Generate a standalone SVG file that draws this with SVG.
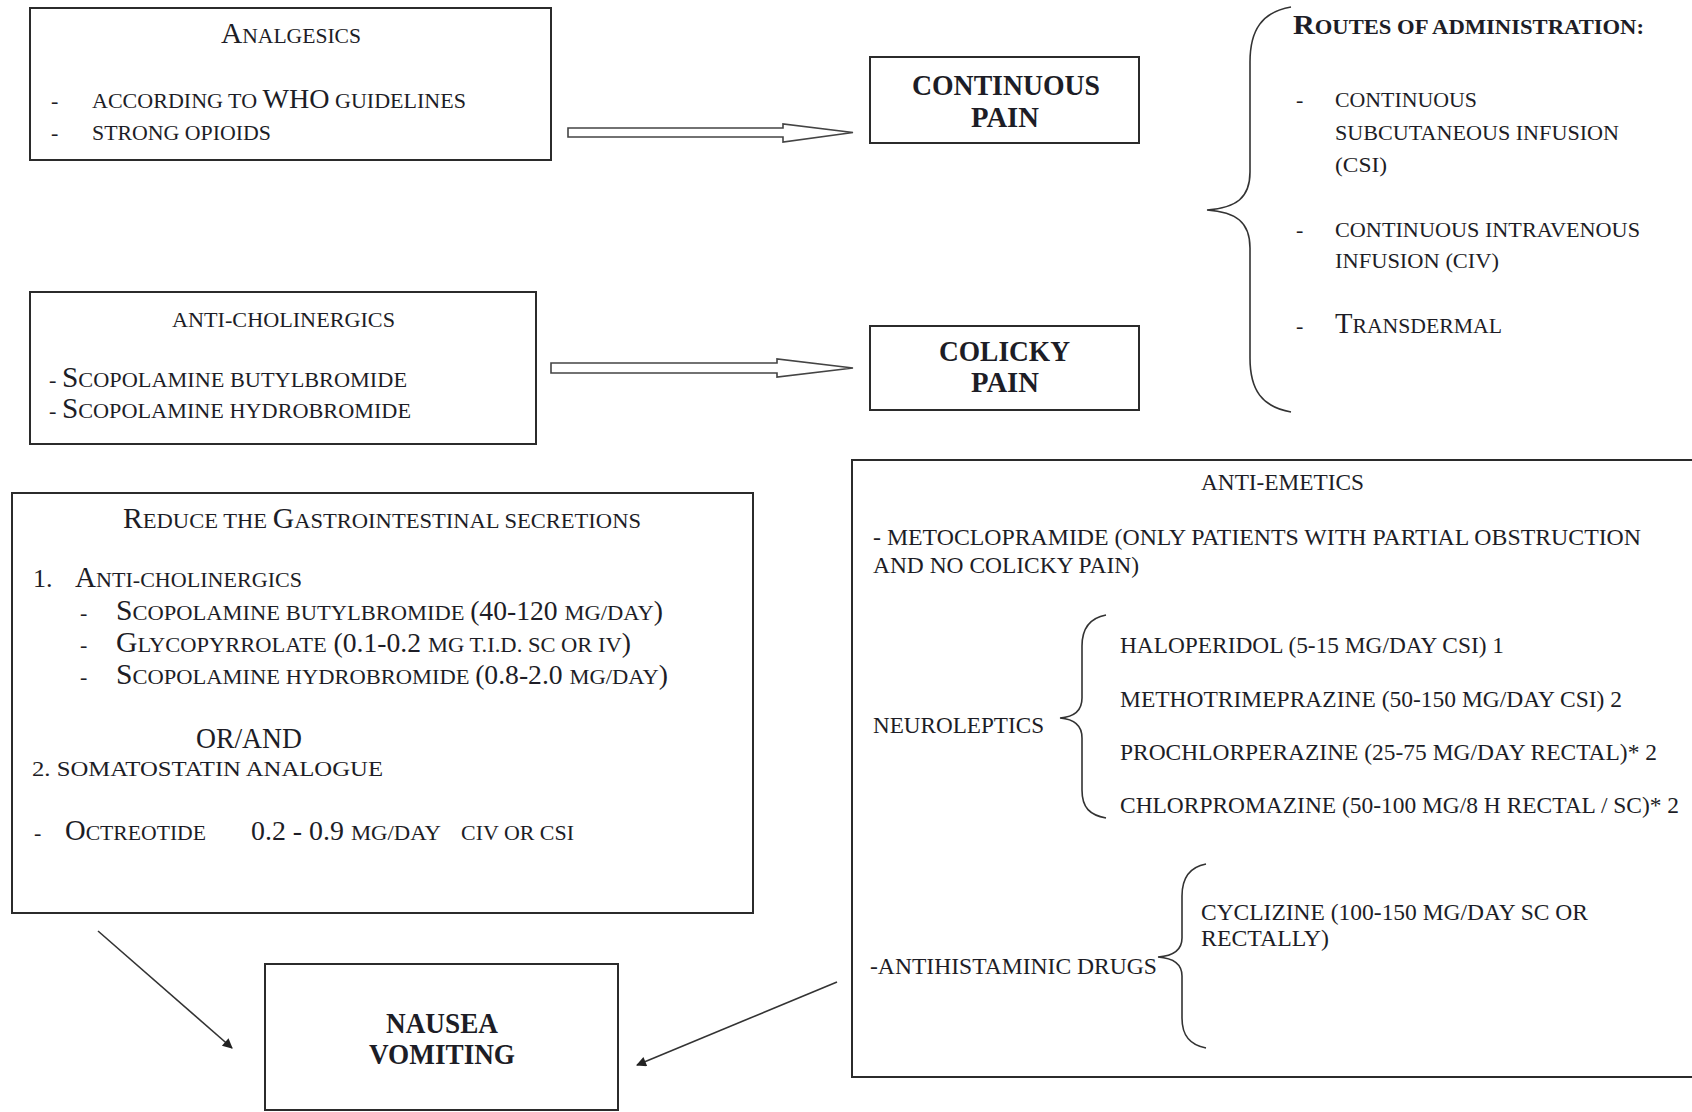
<svg xmlns="http://www.w3.org/2000/svg" width="1692" height="1112" viewBox="0 0 1692 1112">
<style>
text{font-family:"Liberation Serif","Times New Roman",serif;fill:#1d1d26;font-size:22px}
.b{font-weight:bold}
.box{fill:none;stroke:#2b2b2b;stroke-width:2}
.brace{fill:none;stroke:#333;stroke-width:1.6}
.big{font-size:29px}
.num{font-size:27px}
.mid{font-size:24px}
.tt{font-size:30px;font-weight:bold}
.hollow{fill:#fff;stroke:#444;stroke-width:1.6}
.line{stroke:#333;stroke-width:1.6;fill:none}
</style>
<defs>
<marker id="ah" viewBox="0 0 10 10" refX="9" refY="5" markerWidth="14" markerHeight="10" markerUnits="userSpaceOnUse" orient="auto">
<path d="M0,0 L10,5 L0,10 z" fill="#222"/>
</marker>
</defs>
<rect width="1692" height="1112" fill="#fff"/>

<g id="analgesics">
<rect class="box" x="30" y="8" width="521" height="152"/>
<text x="221" y="43" textLength="140" lengthAdjust="spacingAndGlyphs"><tspan style="font-size:30px">A</tspan>NALGESICS</text>
<text x="51" y="108">-</text>
<text x="92" y="108" textLength="374" lengthAdjust="spacingAndGlyphs">ACCORDING TO <tspan style="font-size:28px">WHO</tspan> GUIDELINES</text>
<text x="51" y="140">-</text>
<text x="92" y="140" textLength="179" lengthAdjust="spacingAndGlyphs">STRONG OPIOIDS</text>
</g>

<g id="anticholinergics">
<rect class="box" x="30" y="292" width="506" height="152"/>
<text x="172" y="327" textLength="223" lengthAdjust="spacingAndGlyphs">ANTI-CHOLINERGICS</text>
<text x="49" y="387" textLength="358" lengthAdjust="spacingAndGlyphs">- <tspan class="big">S</tspan>COPOLAMINE BUTYLBROMIDE</text>
<text x="49" y="418" textLength="362" lengthAdjust="spacingAndGlyphs">- <tspan class="big">S</tspan>COPOLAMINE HYDROBROMIDE</text>
</g>

<g id="continuous-pain">
<rect class="box" x="870" y="57" width="269" height="86"/>
<text class="tt" x="912" y="95" textLength="188" lengthAdjust="spacingAndGlyphs">CONTINUOUS</text>
<text class="tt" x="971" y="127" textLength="68" lengthAdjust="spacingAndGlyphs">PAIN</text>
</g>

<g id="colicky-pain">
<rect class="box" x="870" y="326" width="269" height="84"/>
<text class="tt" x="939" y="361" textLength="131" lengthAdjust="spacingAndGlyphs">COLICKY</text>
<text class="tt" x="971" y="392" textLength="68" lengthAdjust="spacingAndGlyphs">PAIN</text>
</g>

<g id="routes">
<path class="brace" d="M1291,7 C1262,12 1250,30 1250,62 L1250,172 C1250,198 1236,208 1207,210 C1236,212 1250,222 1250,248 L1250,358 C1250,390 1262,407 1291,412"/>
<text class="b" x="1293" y="34" style="font-size:21px" textLength="351" lengthAdjust="spacingAndGlyphs"><tspan style="font-size:28px">R</tspan>OUTES OF  ADMINISTRATION:</text>
<text x="1296" y="107">-</text>
<text x="1335" y="107" textLength="142" lengthAdjust="spacingAndGlyphs">CONTINUOUS</text>
<text x="1335" y="140" textLength="284" lengthAdjust="spacingAndGlyphs">SUBCUTANEOUS INFUSION</text>
<text x="1335" y="172" textLength="52" lengthAdjust="spacingAndGlyphs">(CSI)</text>
<text x="1296" y="237">-</text>
<text x="1335" y="237" textLength="305" lengthAdjust="spacingAndGlyphs">CONTINUOUS INTRAVENOUS</text>
<text x="1335" y="268" textLength="164" lengthAdjust="spacingAndGlyphs">INFUSION (CIV)</text>
<text x="1296" y="333">-</text>
<text x="1335" y="333" textLength="167" lengthAdjust="spacingAndGlyphs"><tspan class="big">T</tspan>RANSDERMAL</text>
</g>

<g id="reduce-secretions">
<rect class="box" x="12" y="493" width="741" height="420"/>
<text x="123" y="528" textLength="518" lengthAdjust="spacingAndGlyphs"><tspan class="big">R</tspan>EDUCE  THE  <tspan class="big">G</tspan>ASTROINTESTINAL SECRETIONS</text>
<text x="33" y="587" style="font-size:26px">1.</text>
<text x="75" y="587" textLength="227" lengthAdjust="spacingAndGlyphs"><tspan class="big">A</tspan>NTI-CHOLINERGICS</text>
<text x="80" y="620">-</text>
<text x="116" y="620" textLength="547" lengthAdjust="spacingAndGlyphs"><tspan class="big">S</tspan>COPOLAMINE BUTYLBROMIDE <tspan class="num"> (40-120 </tspan>MG/DAY<tspan class="num">)</tspan></text>
<text x="80" y="652">-</text>
<text x="116" y="652" textLength="515" lengthAdjust="spacingAndGlyphs"><tspan class="big">G</tspan>LYCOPYRROLATE<tspan class="num"> (0.1-0.2 </tspan>MG T.I.D. SC OR IV<tspan class="num">)</tspan></text>
<text x="80" y="684">-</text>
<text x="116" y="684" textLength="552" lengthAdjust="spacingAndGlyphs"><tspan class="big">S</tspan>COPOLAMINE HYDROBROMIDE <tspan class="num"> (0.8-2.0 </tspan>MG/DAY<tspan class="num">)</tspan></text>
<text x="196" y="748" style="font-size:29px" textLength="106" lengthAdjust="spacingAndGlyphs">OR/AND</text>
<text x="32" y="776" textLength="351" lengthAdjust="spacingAndGlyphs">2.  SOMATOSTATIN  ANALOGUE</text>
<text x="34" y="840">-</text>
<text x="65" y="840" textLength="141" lengthAdjust="spacingAndGlyphs"><tspan class="big">O</tspan>CTREOTIDE</text>
<text x="251" y="840" textLength="190" lengthAdjust="spacingAndGlyphs"><tspan class="num">0.2 - 0.9 </tspan>MG/DAY</text>
<text x="461" y="840" textLength="113" lengthAdjust="spacingAndGlyphs">CIV OR CSI</text>
</g>

<g id="anti-emetics">
<rect class="box" x="852" y="460" width="860" height="617"/>
<text class="mid" x="1201" y="490" textLength="163" lengthAdjust="spacingAndGlyphs">ANTI-EMETICS</text>
<text class="mid" x="873" y="545" textLength="768" lengthAdjust="spacingAndGlyphs">- METOCLOPRAMIDE (ONLY PATIENTS WITH  PARTIAL OBSTRUCTION</text>
<text class="mid" x="873" y="573" textLength="266" lengthAdjust="spacingAndGlyphs">AND NO COLICKY PAIN)</text>
<text class="mid" x="873" y="733" textLength="171" lengthAdjust="spacingAndGlyphs">NEUROLEPTICS</text>
<path class="brace" d="M1106,615 C1090,618 1082,628 1082,646 L1082,698 C1082,711 1073,717 1060,718 C1073,719 1082,725 1082,738 L1082,790 C1082,808 1090,815 1106,818"/>
<text class="mid" x="1120" y="653" textLength="384" lengthAdjust="spacingAndGlyphs">HALOPERIDOL (5-15 MG/DAY CSI) 1</text>
<text class="mid" x="1120" y="707" textLength="502" lengthAdjust="spacingAndGlyphs">METHOTRIMEPRAZINE (50-150 MG/DAY CSI) 2</text>
<text class="mid" x="1120" y="760" textLength="537" lengthAdjust="spacingAndGlyphs">PROCHLORPERAZINE (25-75 MG/DAY RECTAL)* 2</text>
<text class="mid" x="1120" y="813" textLength="559" lengthAdjust="spacingAndGlyphs">CHLORPROMAZINE (50-100 MG/8 H RECTAL / SC)* 2</text>
<text class="mid" x="870" y="974" textLength="287" lengthAdjust="spacingAndGlyphs">-ANTIHISTAMINIC DRUGS</text>
<path class="brace" d="M1206,864 C1190,867 1182,878 1182,896 L1182,938 C1182,951 1172,956 1158,957 C1172,958 1182,963 1182,976 L1182,1018 C1182,1036 1190,1045 1206,1048"/>
<text class="mid" x="1201" y="920" textLength="387" lengthAdjust="spacingAndGlyphs">CYCLIZINE (100-150 MG/DAY SC OR</text>
<text class="mid" x="1201" y="946" textLength="128" lengthAdjust="spacingAndGlyphs">RECTALLY)</text>
</g>

<g id="nausea-vomiting">
<rect class="box" x="265" y="964" width="353" height="146"/>
<text class="tt" x="386" y="1033" textLength="112" lengthAdjust="spacingAndGlyphs">NAUSEA</text>
<text class="tt" x="369" y="1064" textLength="146" lengthAdjust="spacingAndGlyphs">VOMITING</text>
</g>

<g id="connectors">
<polygon class="hollow" points="568,128 783,128 783,124 853,132.5 783,142 783,137 568,137"/>
<polygon class="hollow" points="551,363 777,363 777,359 853,368 777,377 777,373 551,373"/>
<line class="line" x1="98" y1="931" x2="232" y2="1048" marker-end="url(#ah)"/>
<line class="line" x1="837" y1="982" x2="637" y2="1065" marker-end="url(#ah)"/>
</g>
</svg>
